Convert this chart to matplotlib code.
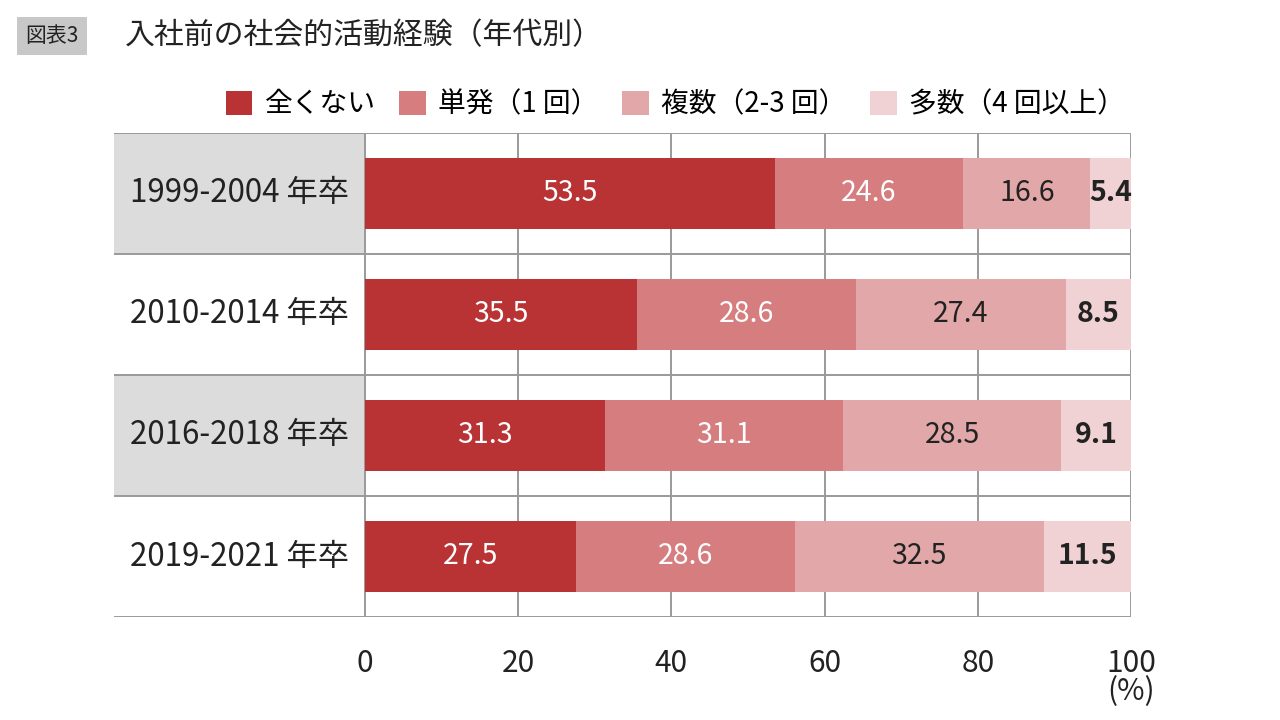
import matplotlib.pyplot as plt

plt.rcParams['font.family'] = ['Noto Sans CJK JP', 'DejaVu Sans']

# --- Datos ---
grupos = ['1999-2004 年卒', '2010-2014 年卒', '2016-2018 年卒', '2019-2021 年卒']
categorias = ['全くない', '単発（1 回）', '複数（2-3 回）', '多数（4 回以上）']
valores = [
    [53.5, 35.5, 31.3, 27.5],   # 全くない
    [24.6, 28.6, 31.1, 28.6],   # 単発
    [16.6, 27.4, 28.5, 32.5],   # 複数
    [5.4, 8.5, 9.1, 11.5],      # 多数
]
ticks = [0, 20, 40, 60, 80, 100]
tick_labels = ['0', '20', '40', '60', '80', '100\n(%)']

colores = ['#B93234', '#D67D7F', '#E2A7A8', '#F0D2D4']
col_txt = ['white', 'white', '#222222', '#222222']
peso_txt = ['normal', 'normal', 'normal', 'bold']
gris = '#9A9A9A'

fig = plt.figure(figsize=(12.8, 7.2), dpi=100)
W, H = 1280, 720
x_left, x0, x100 = 114, 365, 1131
y_top, y_bot = 133, 617
ax = fig.add_axes([x_left / W, 1 - y_bot / H, (x100 - x_left) / W, (y_bot - y_top) / H])
px = (x100 - x0) / 100
xmin = -(x0 - x_left) / px
ax.set_xlim(xmin, 100)
ax.set_ylim(len(grupos) - 0.5, -0.5)

# celdas grises de la etiqueta
for i in [0, 2]:
    ax.barh(i, -xmin, left=xmin, height=1.0, color='#DCDCDC', zorder=0)

# barras apiladas
izq = [0] * len(grupos)
barras = []
for k, serie in enumerate(valores):
    b = ax.barh(range(len(grupos)), serie, left=izq, height=0.58,
                color=colores[k], label=categorias[k], zorder=2)
    barras.append(b)
    for i, v in enumerate(serie):
        ax.text(izq[i] + v / 2, i, f'{v:.1f}', ha='center', va='center',
                fontsize=20.5, color=col_txt[k], fontweight=peso_txt[k], zorder=3)
    izq = [a + v for a, v in zip(izq, serie)]

# lineas de la tabla
for y in [-0.5, 0.5, 1.5, 2.5, 3.5]:
    ax.axhline(y, color=gris, lw=1.4, zorder=1)
for t in ticks:
    ax.axvline(t, color=gris, lw=1.4, zorder=1)

for i, g in enumerate(grupos):
    ax.text(xmin / 2, i, g, ha='center', va='center', fontsize=22.5, color='#222222')

for s in ax.spines.values():
    s.set_visible(False)
ax.set_yticks([])
ax.set_xticks(ticks)
ax.set_xticklabels(tick_labels)
ax.tick_params(axis='x', length=0, pad=22, labelsize=21.5, labelcolor='#222222')
for lab in ax.get_xticklabels():
    lab.set_linespacing(0.9)

# leyenda
ax.legend(handles=barras, loc='lower right', bbox_to_anchor=(1.005, 1.005), ncol=4,
          frameon=False, fontsize=20, handlelength=0.95, handleheight=0.95,
          handletextpad=0.45, columnspacing=0.85, borderaxespad=0.0)

# titulo
fig.text(25 / W, 1 - 36 / H, '図表3', ha='left', va='center', fontsize=15, color='#222222',
         bbox=dict(facecolor='#C8C8C8', edgecolor='none', pad=6))
fig.text(125 / W, 1 - 36 / H, '入社前の社会的活動経験（年代別）', ha='left', va='center',
         fontsize=21.5, color='#222222')

fig.savefig('out.png', dpi=100)
